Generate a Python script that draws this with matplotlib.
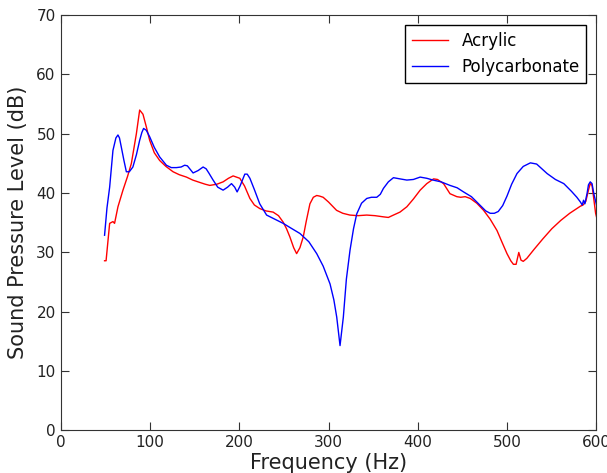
import numpy as np
import matplotlib
matplotlib.use("Agg")
import matplotlib.pyplot as plt

# Acrylic (red)
acrylic_f = [49.3, 51, 55, 58.7, 60.5, 64.3, 69.9, 75, 79.3, 84.9, 88.6, 92.3, 96, 99.8,
             105, 111, 118, 126, 133, 141, 148, 155.9, 162, 167.1, 175, 182, 188, 193.2,
             200.7, 206, 212, 217, 223, 230, 238, 244, 249.3, 253, 256.8, 261, 264.3,
             268, 271.7, 275, 279.2, 283, 286.8, 290, 294, 300, 309, 316, 324, 333,
             342.8, 352, 361.5, 367, 372.7, 380, 387.7, 395, 402.6, 410, 417.6, 422,
             428.8, 436, 443.7, 448, 453, 458.7, 466, 473.6, 481, 488.6, 494, 499.8,
             504, 507, 510, 513, 515.5, 518, 522, 530, 540, 550, 560, 570, 578, 582,
             585, 588, 591, 593, 595, 597, 599, 600]
acrylic_db = [28.6, 28.6, 34.9, 35.2, 34.9, 37.7, 40.5, 42.8, 45.0, 50.0, 54.0, 53.3, 51.2, 48.9,
              46.8, 45.5, 44.5, 43.6, 43.1, 42.7, 42.2, 41.8, 41.5, 41.3, 41.5, 41.9, 42.5, 42.9,
              42.5, 41.2, 39.1, 38.0, 37.4, 37.0, 36.8, 36.2, 35.1, 34.0, 32.6, 30.8, 29.8,
              30.8, 32.6, 35.2, 38.2, 39.3, 39.6, 39.5, 39.3, 38.5, 37.1, 36.6, 36.3, 36.2,
              36.3, 36.2, 36.0, 35.9, 36.3, 36.8, 37.7, 39.0, 40.5, 41.6, 42.4, 42.3,
              41.6, 39.9, 39.4, 39.3, 39.4, 39.1, 38.3, 37.1, 35.6, 33.7, 31.8, 29.8,
              28.6, 28.0, 28.0, 30.0, 28.7, 28.5, 29.0, 30.5, 32.3, 34.0, 35.4, 36.6, 37.4, 37.8,
              38.0, 38.6, 40.5, 41.6, 41.3, 39.0, 36.6, 36.0]

# Polycarbonate (blue)
poly_f = [49.3, 52, 55, 58.7, 62, 64.3, 66, 68, 71, 73.7, 77, 81, 85, 88.6, 91, 93, 96,
          99.8, 105, 111, 118.5, 124, 129.7, 135, 139, 142, 148.4, 154, 159.6, 163,
          166, 170.8, 176, 182, 187, 191.4, 195, 197.7, 201, 206.3, 209, 212, 217, 223,
          230.7, 240, 249.3, 258, 268, 278, 286.8, 294, 301.7, 306, 309.2, 312.9,
          316.6, 320, 324.1, 328, 331.6, 337, 342.8, 348, 354, 358, 361.5, 367, 372.7,
          380, 387.7, 395, 402.6, 410, 417, 426, 436, 444, 451.2, 460, 468, 476, 481,
          485.6, 490, 495, 499.8, 505, 511, 518, 526, 533, 544.7, 554, 563.4, 572,
          578, 582, 584, 585.5, 587, 589.5, 591, 593, 595, 597, 600]
poly_db = [32.9, 37.5, 41.0, 47.2, 49.3, 49.8, 49.3, 47.8, 45.5, 43.6, 43.6, 44.4, 46.5, 48.9, 50.2, 50.9, 50.6,
           49.5, 47.7, 46.1, 44.7, 44.3, 44.3, 44.4, 44.7, 44.6, 43.4, 43.8, 44.4, 44.1,
           43.4, 42.2, 41.0, 40.5, 41.0, 41.6, 41.0, 40.2, 41.2, 43.2, 43.2, 42.5, 40.6, 38.2,
           36.3, 35.6, 34.9, 34.1, 33.2, 31.8, 29.8, 27.7, 24.7, 22.0, 19.1, 14.3,
           19.1, 25.5, 30.4, 34.0, 36.5, 38.3, 39.1, 39.3, 39.3, 39.8, 40.8, 41.9, 42.6,
           42.4, 42.2, 42.3, 42.7, 42.5, 42.2, 41.9, 41.3, 40.9, 40.2, 39.4, 38.2, 37.0, 36.6,
           36.6, 36.9, 37.9, 39.5, 41.5, 43.3, 44.5, 45.1, 44.9, 43.3, 42.3, 41.6, 40.3,
           39.3, 38.5, 38.0, 38.8, 38.2, 40.0, 41.4, 41.9, 41.6, 39.9, 38.0]

fig = plt.figure(figsize=(6.07, 4.73), dpi=100)
ax = fig.add_axes([0.0997, 0.0900, 0.8830, 0.8780])

ax.plot(acrylic_f, acrylic_db, color='#ff0000', lw=1.0, label='Acrylic')
ax.plot(poly_f, poly_db, color='#0000ff', lw=1.0, label='Polycarbonate')

ax.set_xlim(0, 600)
ax.set_ylim(0, 70)
ax.set_xticks(range(0, 601, 100))
ax.set_yticks(range(0, 71, 10))
for s in ax.spines.values():
    s.set_color('#333333')
ax.tick_params(direction='in', top=True, right=True, length=6, labelsize=11,
               color='#333333', labelcolor='#222222')
ax.set_xlabel('Frequency (Hz)', fontsize=15, labelpad=2, color='#222222')
ax.set_ylabel('Sound Pressure Level (dB)', fontsize=15, labelpad=6, color='#222222')

leg = ax.legend(loc='upper right', fontsize=12, fancybox=False, framealpha=1,
                edgecolor='black', handlelength=2.2, borderaxespad=0.6)
leg.get_frame().set_linewidth(1.0)

fig.savefig('out.png', dpi=100)
